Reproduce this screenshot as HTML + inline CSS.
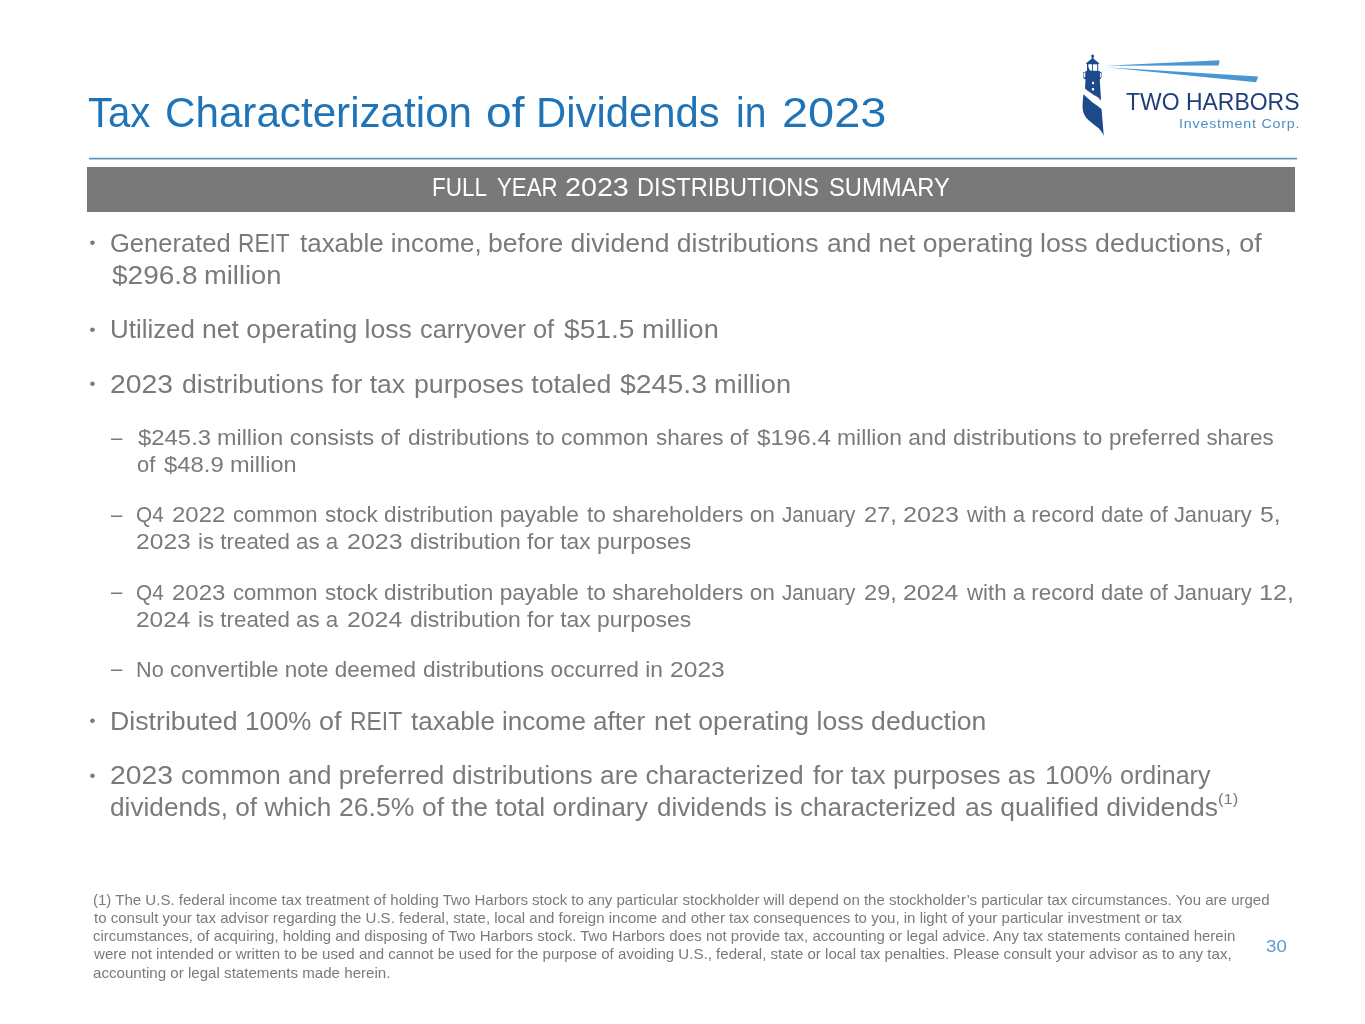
<!DOCTYPE html>
<html lang="en"><head><meta charset="utf-8"><title>Tax Characterization of Dividends in 2023</title>
<style>
html,body{margin:0;padding:0;background:#fff;}
body{width:1365px;height:1024px;position:relative;overflow:hidden;font-family:"Liberation Sans",sans-serif;}
.ln{position:absolute;left:0;width:1365px;margin:0;padding:0;font-weight:normal;white-space:pre;vertical-align:baseline;}
.ln span{position:absolute;top:0;left:0;white-space:pre;transform-origin:0 0;}
.mk{position:absolute;white-space:pre;transform-origin:0 0;color:#7a7a7a;}
.rule{position:absolute;left:89px;top:157px;width:1208px;height:3px;background:linear-gradient(to bottom,#d3e4ef 0,#d3e4ef 1px,#6792b6 1px,#6792b6 2px,#b3cde0 2px,#b3cde0 3px);}
.band{position:absolute;left:87px;top:167px;width:1208px;height:45px;background:#797979;}
.logo{position:absolute;left:1070px;top:45px;width:200px;height:100px;}
</style></head>
<body>
<header>
<h1 class="ln title" style="top:86.00px;font-size:43px;line-height:52px;height:52px;color:#1f74b7;"><span style="left:87.57px;transform:scaleX(0.9329);">Tax </span><span style="left:165.32px;transform:scaleX(0.9807);">Characterization </span><span style="left:486.36px;transform:scaleX(1.0731);">of </span><span style="left:536.03px;transform:scaleX(0.9722);">Dividends </span><span style="left:735.87px;transform:scaleX(0.9060);">in </span><span style="left:781.80px;transform:scaleX(1.0914);">2023</span></h1>
<svg class="logo" viewBox="1070 45 200 100" aria-label="Two Harbors lighthouse logo">
<g fill="#1c4a8c">
<circle cx="1092.6" cy="56.1" r="1.5"/>
<rect x="1091.8" y="57" width="1.6" height="2"/>
<polygon points="1092.6,58.0 1099.1,63.3 1098.7,63.9 1086.4,63.9 1086.0,63.3"/>
<rect x="1087" y="63.4" width="11.2" height="7.8"/>
<rect x="1085.5" y="71" width="14.4" height="8.4"/>
<rect x="1083.8" y="77.3" width="17.1" height="1.5"/>
<path d="M1085.5,78.5 L1099.7,78.5 L1101.1,101 C1100.6,99.9 1099,98 1097,96.8 C1093,94.6 1088,91.5 1085,88.6 Z"/>
<path d="M1083.5,94.2 C1087,97.5 1092,102 1095.5,104.6 C1098,106.4 1100.4,108 1101.6,109.3 L1103.8,135.9 C1102.8,133.5 1100.5,130 1098.4,128.1 C1095,125 1093,123.8 1091.1,122.2 C1088.5,120 1086.5,118.5 1085.3,116.4 C1083.6,113.5 1082.7,111 1082.6,108.1 C1082.5,103 1083,98 1083.5,94.2 Z"/>
</g>
<g fill="#ffffff">
<path d="M1088.3,64.3 L1092.1,64.3 L1092.1,70.8 L1090.8,70.8 C1089.3,69.8 1088.4,68 1088.3,66 Z"/>
<rect x="1093" y="64.3" width="4.2" height="6.5"/>
<rect x="1092.1" y="81.8" width="2" height="2.4"/>
<rect x="1091.9" y="88.1" width="2.2" height="2.4"/>
</g>
<g fill="none" stroke="#1c4a8c" stroke-width="0.5">
<rect x="1083.5" y="72.3" width="2" height="5"/>
<rect x="1099.9" y="72.3" width="1.7" height="5"/>
</g>
<g fill="#4a96d2">
<polygon points="1105.5,65.7 1219.6,60.2 1218.7,65.6"/>
<polygon points="1106,67.2 1258.1,76.4 1256.1,82.3"/>
</g>
</svg>

<div class="ln logo1" style="top:87.00px;font-size:23.8px;line-height:29px;height:29px;color:#1f3f7c;"><span style="left:1125.64px;transform:scaleX(0.9650);">TWO HARBORS</span></div>
<div class="ln logo2" style="top:115.00px;font-size:13.6px;line-height:17px;height:17px;color:#4b8fc4;"><span style="left:1178.88px;letter-spacing:0.754px;transform:scaleX(1.0500);">Investment Corp.</span></div>
<div class="rule"></div>
</header>
<main>
<div class="band"></div>
<h2 class="ln bar" style="top:171.00px;font-size:26px;line-height:32px;height:32px;color:#ffffff;"><span style="left:432.04px;transform:scaleX(0.8654);">FULL </span><span style="left:496.75px;transform:scaleX(0.8547);">YEAR </span><span style="left:565.06px;transform:scaleX(1.1032);">2023 </span><span style="left:636.56px;transform:scaleX(0.9061);">DISTRIBUTIONS </span><span style="left:828.66px;transform:scaleX(0.9122);">SUMMARY</span></h2>
<span class="mk" style="left:89.53px;top:233.08px;font-size:17px;line-height:20px;height:20px;">•</span>
<p class="ln b1" style="top:227.00px;font-size:26px;line-height:32px;height:32px;color:#7a7a7a;"><span style="left:110.00px;transform:scaleX(0.9818);">Generated </span><span style="left:238.33px;transform:scaleX(0.8723);">REIT </span><span style="left:299.50px;transform:scaleX(0.9975);">taxable income, </span><span style="left:488.44px;transform:scaleX(1.0205);">before dividend distributions </span><span style="left:826.97px;transform:scaleX(1.0189);">and net operating </span><span style="left:1040.03px;transform:scaleX(1.0289);">loss deductions, of</span></p>
<p class="ln b1" style="top:259.00px;font-size:26px;line-height:32px;height:32px;color:#7a7a7a;"><span style="left:111.80px;transform:scaleX(1.0768);">$296.8 </span><span style="left:204.49px;transform:scaleX(1.0524);">million</span></p>
<span class="mk" style="left:89.53px;top:319.78px;font-size:17px;line-height:20px;height:20px;">•</span>
<p class="ln b1" style="top:313.00px;font-size:26px;line-height:32px;height:32px;color:#7a7a7a;"><span style="left:109.88px;transform:scaleX(0.9956);">Utilized </span><span style="left:201.64px;transform:scaleX(1.0226);">net operating loss </span><span style="left:419.91px;transform:scaleX(0.9770);">carryover of </span><span style="left:564.00px;transform:scaleX(1.0826);">$51.5 </span><span style="left:641.51px;transform:scaleX(1.0411);">million</span></p>
<span class="mk" style="left:89.53px;top:374.28px;font-size:17px;line-height:20px;height:20px;">•</span>
<p class="ln b1" style="top:368.00px;font-size:26px;line-height:32px;height:32px;color:#7a7a7a;"><span style="left:109.77px;transform:scaleX(1.0906);">2023 </span><span style="left:181.87px;transform:scaleX(1.0226);">distributions for tax </span><span style="left:414.33px;transform:scaleX(1.0266);">purposes totaled </span><span style="left:620.10px;transform:scaleX(1.0934);">$245.3 </span><span style="left:714.00px;transform:scaleX(1.0453);">million</span></p>
<span class="mk" style="left:110.60px;top:424.57px;font-size:22px;line-height:26px;height:26px;transform:scaleX(0.9293);">–</span>
<p class="ln b2" style="top:424.00px;font-size:22px;line-height:27px;height:27px;color:#7a7a7a;"><span style="left:137.90px;transform:scaleX(1.0859);">$245.3 </span><span style="left:216.84px;transform:scaleX(1.0620);">million consists of </span><span style="left:407.59px;transform:scaleX(1.0347);">distributions to common </span><span style="left:655.65px;transform:scaleX(1.0230);">shares of </span><span style="left:756.70px;transform:scaleX(1.0983);">$196.4 </span><span style="left:836.87px;transform:scaleX(1.0404);">million and </span><span style="left:953.28px;transform:scaleX(1.0530);">distributions to </span><span style="left:1109.30px;transform:scaleX(1.0210);">preferred shares</span></p>
<p class="ln b2" style="top:451.00px;font-size:22px;line-height:27px;height:27px;color:#7a7a7a;"><span style="left:136.72px;transform:scaleX(0.9924);">of </span><span style="left:164.00px;transform:scaleX(1.0838);">$48.9 </span><span style="left:229.53px;transform:scaleX(1.0680);">million</span></p>
<span class="mk" style="left:110.60px;top:502.17px;font-size:22px;line-height:26px;height:26px;transform:scaleX(0.9293);">–</span>
<p class="ln b2" style="top:501.00px;font-size:22px;line-height:27px;height:27px;color:#7a7a7a;"><span style="left:136.13px;transform:scaleX(0.9435);">Q4 </span><span style="left:171.57px;transform:scaleX(1.0911);">2022 </span><span style="left:232.61px;transform:scaleX(1.0032);">common </span><span style="left:325.35px;transform:scaleX(1.0277);">stock distribution payable </span><span style="left:587.30px;transform:scaleX(1.0315);">to shareholders on </span><span style="left:782.38px;transform:scaleX(0.9368);">January </span><span style="left:863.89px;transform:scaleX(1.0750);">27, </span><span style="left:903.42px;transform:scaleX(1.1421);">2023 </span><span style="left:967.05px;transform:scaleX(1.0124);">with a record </span><span style="left:1101.02px;transform:scaleX(0.9936);">date of January </span><span style="left:1260.23px;transform:scaleX(1.1238);">5,</span></p>
<p class="ln b2" style="top:528.00px;font-size:22px;line-height:27px;height:27px;color:#7a7a7a;"><span style="left:136.25px;transform:scaleX(1.1187);">2023 </span><span style="left:197.90px;transform:scaleX(1.0150);">is treated as a </span><span style="left:347.13px;transform:scaleX(1.1357);">2023 </span><span style="left:410.28px;transform:scaleX(1.0406);">distribution for tax purposes</span></p>
<span class="mk" style="left:110.60px;top:579.07px;font-size:22px;line-height:26px;height:26px;transform:scaleX(0.9293);">–</span>
<p class="ln b2" style="top:579.00px;font-size:22px;line-height:27px;height:27px;color:#7a7a7a;"><span style="left:136.13px;transform:scaleX(0.9435);">Q4 </span><span style="left:171.57px;transform:scaleX(1.0911);">2023 </span><span style="left:232.61px;transform:scaleX(1.0032);">common </span><span style="left:325.35px;transform:scaleX(1.0277);">stock distribution payable </span><span style="left:587.30px;transform:scaleX(1.0315);">to shareholders on </span><span style="left:782.38px;transform:scaleX(0.9368);">January </span><span style="left:863.89px;transform:scaleX(1.0750);">29, </span><span style="left:903.43px;transform:scaleX(1.1338);">2024 </span><span style="left:967.05px;transform:scaleX(1.0124);">with a record </span><span style="left:1101.02px;transform:scaleX(0.9936);">date of January </span><span style="left:1259.43px;transform:scaleX(1.1428);">12,</span></p>
<p class="ln b2" style="top:606.00px;font-size:22px;line-height:27px;height:27px;color:#7a7a7a;"><span style="left:136.25px;transform:scaleX(1.1106);">2024 </span><span style="left:197.90px;transform:scaleX(1.0150);">is treated as a </span><span style="left:347.14px;transform:scaleX(1.1275);">2024 </span><span style="left:410.28px;transform:scaleX(1.0406);">distribution for tax purposes</span></p>
<span class="mk" style="left:110.60px;top:656.37px;font-size:22px;line-height:26px;height:26px;transform:scaleX(0.9293);">–</span>
<p class="ln b2" style="top:656.00px;font-size:22px;line-height:27px;height:27px;color:#7a7a7a;"><span style="left:135.91px;transform:scaleX(0.9838);">No </span><span style="left:170.30px;transform:scaleX(1.0209);">convertible note deemed </span><span style="left:423.29px;transform:scaleX(1.0325);">distributions occurred in </span><span style="left:670.05px;transform:scaleX(1.1187);">2023</span></p>
<span class="mk" style="left:89.53px;top:711.08px;font-size:17px;line-height:20px;height:20px;">•</span>
<p class="ln b1" style="top:705.00px;font-size:26px;line-height:32px;height:32px;color:#7a7a7a;"><span style="left:109.81px;transform:scaleX(1.0275);">Distributed </span><span style="left:245.08px;transform:scaleX(0.9985);">100% </span><span style="left:319.16px;transform:scaleX(1.0353);">of </span><span style="left:349.91px;transform:scaleX(0.8811);">REIT </span><span style="left:411.00px;">taxable income after </span><span style="left:653.54px;transform:scaleX(1.0219);">net operating loss deduction</span></p>
<span class="mk" style="left:89.53px;top:765.58px;font-size:17px;line-height:20px;height:20px;">•</span>
<p class="ln b1" style="top:759.00px;font-size:26px;line-height:32px;height:32px;color:#7a7a7a;"><span style="left:109.77px;transform:scaleX(1.0906);">2023 </span><span style="left:181.49px;transform:scaleX(1.0010);">common and preferred </span><span style="left:452.48px;transform:scaleX(1.0140);">distributions are characterized </span><span style="left:813.30px;transform:scaleX(1.0063);">for tax purposes as </span><span style="left:1045.05px;transform:scaleX(1.0141);">100% </span><span style="left:1120.22px;transform:scaleX(0.9633);">ordinary</span></p>
<sup class="ln sup" style="top:789.00px;font-size:15.5px;line-height:19px;height:19px;color:#7a7a7a;"><span style="left:1217.82px;transform:scaleX(1.0681);">(1)</span></sup>
<p class="ln b1" style="top:791.00px;font-size:26px;line-height:32px;height:32px;color:#7a7a7a;"><span style="left:110.08px;transform:scaleX(1.0078);">dividends, of which </span><span style="left:338.75px;transform:scaleX(1.0219);">26.5% </span><span style="left:422.48px;transform:scaleX(1.0146);">of the total ordinary </span><span style="left:657.49px;transform:scaleX(0.9994);">dividends is characterized </span><span style="left:964.87px;transform:scaleX(1.0175);">as qualified dividends</span></p>
</main>
<footer>
<p class="ln fn" style="top:890.50px;font-size:15px;line-height:18px;height:18px;color:#7a7a7a;"><span style="left:93.10px;transform:scaleX(1.0025);">(1) The U.S. federal income tax treatment of holding Two Harbors stock to any particular stockholder will depend on the stockholder’s particular tax circumstances. You are urged</span></p>
<p class="ln fn" style="top:908.50px;font-size:15px;line-height:18px;height:18px;color:#7a7a7a;"><span style="left:93.60px;transform:scaleX(1.0022);">to consult your tax advisor regarding the U.S. federal, state, local and foreign income and other tax consequences to you, in light of your particular investment or tax</span></p>
<p class="ln fn" style="top:926.50px;font-size:15px;line-height:18px;height:18px;color:#7a7a7a;"><span style="left:93.13px;transform:scaleX(0.9983);">circumstances, of acquiring, holding and disposing of Two Harbors stock. Two Harbors does not provide tax, accounting or legal advice. Any tax statements contained herein</span></p>
<div class="ln pn" style="top:936.00px;font-size:16.5px;line-height:20px;height:20px;color:#5b9bd5;"><span style="left:1266.41px;transform:scaleX(1.1362);">30</span></div>
<p class="ln fn" style="top:944.50px;font-size:15px;line-height:18px;height:18px;color:#7a7a7a;"><span style="left:93.64px;transform:scaleX(1.0054);">were not intended or written to be used and cannot be used for the purpose of avoiding U.S., federal, state or local tax penalties. Please consult your advisor as to any tax,</span></p>
<p class="ln fn" style="top:963.50px;font-size:15px;line-height:18px;height:18px;color:#7a7a7a;"><span style="left:93.13px;transform:scaleX(1.0077);">accounting or legal statements made herein.</span></p>
</footer>
</body></html>
